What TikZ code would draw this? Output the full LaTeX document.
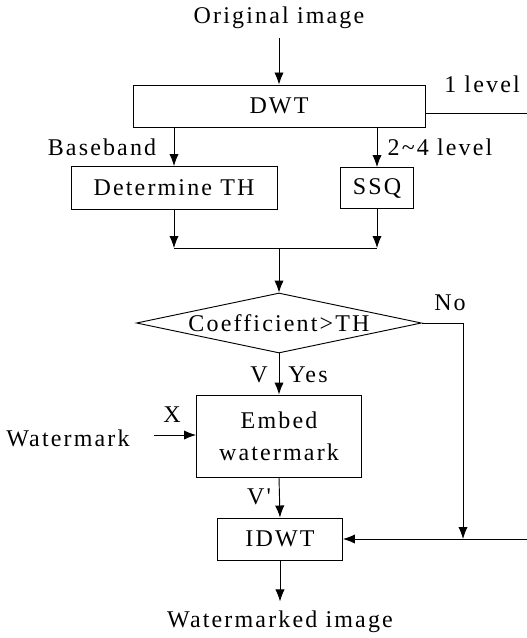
\documentclass[tikz,border=0pt]{standalone}
\usepackage{fontspec}
\setmainfont{Liberation Serif}[LetterSpace=9]
\newfontfamily\nolig{Liberation Serif}[LetterSpace=9,Ligatures=TeXOff]
\usetikzlibrary{arrows.meta,shapes.geometric}

\tikzset{
  box/.style={draw, line width=0.7pt, inner sep=0pt, align=center},
  decision/.style={draw, diamond, line width=0.7pt, inner sep=0pt},
  flow/.style={line width=0.7pt, -{Latex[length=9pt,width=7pt]}},
  plain/.style={line width=0.7pt},
  txt/.style={inner sep=0pt}
}

\begin{document}
\begin{tikzpicture}[x=0.75pt, y=-0.75pt, font=\fontsize{18}{21}\selectfont]
    \useasboundingbox (0,0) rectangle (527,638);

    % 1. 输入与 DWT
    \node[txt] (orig) at (279,18) {Original image};
    \node[box, minimum width=219pt, minimum height=31.5pt] (dwt) at (279,106) {DWT};
    \draw[flow] (orig) ++(0,20) coordinate (origend) -- (dwt.north);
    \node[txt] (lvlone) at (482,84) {1 level};
    \coordinate (lvlend) at (527,113);
    \draw[plain] (dwt.east |- lvlend) -- (lvlend);

    % 2. 两个分支
    \node[box, minimum width=154.5pt, minimum height=32.25pt] (dth) at (174,188) {Determine TH};
    \node[box, minimum width=54.75pt, minimum height=30.75pt] (ssq) at (377,188) {SSQ};
    \node[txt] (base) at (102,147) {Baseband};
    \node[txt] (lvlmore) at (440,147) {2{\char`\~}4 level};
    \draw[flow] (dwt.south -| dth) -- (dth.north);
    \draw[flow] (dwt.south -| ssq) -- (ssq.north);

    % 3. 合并
    \coordinate (merge) at (279,248);
    \draw[flow] (dth.south) -- (dth |- merge);
    \draw[flow] (ssq.south) -- (ssq |- merge);
    \draw[plain] (dth |- merge) -- (ssq |- merge);

    % 4. 判断
    \node[decision, minimum width=213.75pt, minimum height=45pt] (dec) at (279,323) {};
    \node[txt] (dectext) at (dec) {Coefficient>TH};
    \draw[flow] (merge) -- (dec.north);
    \node[txt] (no) at (450,303) {No};

    % 5. 嵌入水印
    \node[box, minimum width=123.75pt, minimum height=61.5pt] (embed) at (279,436) {Embed\\[3pt]watermark};
    \draw[flow] (dec.south) -- (embed.north);
    \node[txt] (v) at (259,375) {V};
    \node[txt] (yes) at (308,375) {Yes};
    \node[txt] (wm) at (68,438) {Watermark};
    \coordinate (wmstart) at (154,435);
    \draw[flow] (wmstart) -- (embed.west |- wmstart);
    \node[txt] (x) at (172,415) {X};

    % 6. IDWT 与输出
    \node[box, minimum width=93.75pt, minimum height=31.5pt] (idwt) at (280,539) {IDWT};
    \draw[flow] (embed.south) -- (idwt.north);
    \node[txt] (vp) at (259,497) {\nolig V'};
    \node[txt] (out) at (280,622) {Watermarked image};
    \draw[flow] (idwt.south) -- ++(0,41) coordinate (outend);

    % 7. No 支路
    \coordinate (noturn) at (463,323);
    \coordinate (rightend) at (527,539);
    \draw[flow] (dec.east) -- (noturn) -- (noturn |- rightend);
    \draw[flow] (rightend) -- (idwt.east);
\end{tikzpicture}
\end{document}
